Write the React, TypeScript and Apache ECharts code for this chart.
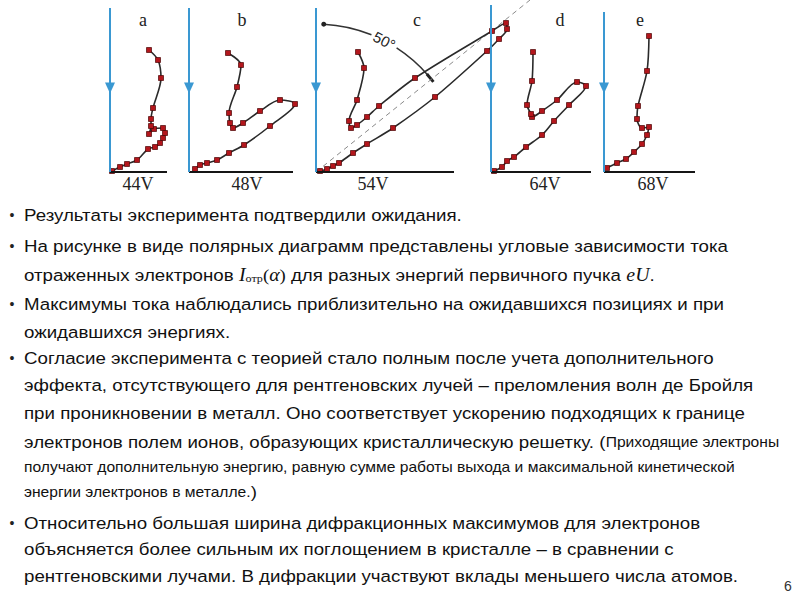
import React, { useEffect, useRef } from 'react';
import * as echarts from 'echarts';

// ---- data (arbitrary current units, horizontal / vertical components of the polar plots) ----
const panelLetters = ['a', 'b', 'c', 'd', 'e'];
const voltageLabels = ['44V', '48V', '54V', '64V', '68V'];

const curve44V: number[][] = [[2, 1], [10, 5], [17, 8], [27, 12], [38, 23], [45, 25], [50, 29], [53, 34], [55, 39], [53, 44], [44, 43], [39, 38], [41, 46], [41, 53], [43, 64], [51, 94], [48, 112], [39, 122]];
const curve48V: number[][] = [[6, 3], [11, 7], [18, 9], [28, 12], [40, 19], [55, 27], [81, 46], [106, 68], [91, 72], [71, 61], [54, 49], [44, 44], [41, 49], [40, 59], [48, 85], [52, 107], [39, 119]];
const curve54V: number[][] = [[4, 1], [11, 3], [17, 6], [23, 9], [37, 19], [51, 28], [77, 44], [119, 75], [171, 121], [183, 133], [191, 143], [190, 149], [176, 141], [99, 94], [63, 66], [51, 55], [41, 47], [35, 44], [33, 51], [41, 72], [48, 104], [42, 120]];
const curve64V: number[][] = [[3, 1], [11, 5], [16, 11], [23, 15], [35, 25], [51, 37], [63, 51], [78, 67], [95, 86], [86, 90], [66, 72], [51, 61], [41, 55], [40, 58], [36, 67], [41, 91], [42, 120]];
const curve68V: number[][] = [[3, 4], [13, 9], [22, 13], [30, 20], [38, 28], [43, 37], [45, 45], [38, 44], [33, 53], [34, 66], [43, 101], [45, 136]];
const curves = [curve44V, curve48V, curve54V, curve64V, curve68V];

// surface (baseline) length and incident-beam length per panel, same units
const surfaceLength = [57, 104, 138, 100, 91];
const beamLength = [164, 164, 164, 167, 160];
const arrowMarkerLevel = 84;

// expected reflection direction (50° from incident beam) for the 54V panel
const expectedDirection54V: number[][] = [[0, 0], [214, 172]];
const angleLabel = '50°';

const bodyLines: { text: string; bullet: boolean }[] = [
  { text: 'Результаты эксперимента подтвердили ожидания.', bullet: true },
  { text: 'На рисунке в виде полярных диаграмм представлены угловые зависимости тока', bullet: true },
  { text: 'отраженных электронов {i|I}{sub|отр}{p|(}{i|α}{p|)} для разных энергий первичного пучка {i|eU}.', bullet: false },
  { text: 'Максимумы тока наблюдались приблизительно на ожидавшихся позициях и при', bullet: true },
  { text: 'ожидавшихся энергиях.', bullet: false },
  { text: 'Согласие эксперимента с теорией стало полным после учета дополнительного', bullet: true },
  { text: 'эффекта, отсутствующего для рентгеновских лучей – преломления волн де Бройля', bullet: false },
  { text: 'при проникновении в металл. Оно соответствует ускорению подходящих к границе', bullet: false },
  { text: 'электронов полем ионов, образующих кристаллическую решетку. ({s|Приходящие электроны}', bullet: false },
  { text: '{s|получают дополнительную энергию, равную сумме работы выхода и максимальной кинетической}', bullet: false },
  { text: '{s|энергии электронов в металле.})', bullet: false },
  { text: 'Относительно большая ширина дифракционных максимумов для электронов', bullet: true },
  { text: 'объясняется более сильным их поглощением в кристалле – в сравнении с', bullet: false },
  { text: 'рентгеновскими лучами. В дифракции участвуют вклады меньшего числа атомов.', bullet: false },
];
const pageNumber = '6';

// ---- layout ----
const ORIGIN_X = [110, 189, 316, 491, 604];
const GRID_W = [60, 110, 220, 100, 92];
const BASE_Y = 172;
const LETTER_X = [143, 242, 417, 560, 640];
const VOLT_X = [138, 247, 373, 545, 653];
const LINE_Y = [215, 246, 275, 304, 332, 358, 385, 413, 442, 467, 492, 523, 549, 576];
const TEXT_X = 24;
const BLUE = '#3a98d2';
const SANS = 'Liberation Sans, Arial, sans-serif';
const SERIF = 'Liberation Serif, Times New Roman, serif';
const D = Math.PI / 180;

export default function App() {
  const ref = useRef<HTMLDivElement>(null);
  useEffect(() => {
    const chart = echarts.init(ref.current!, null, { renderer: 'svg' });
    const grids = ORIGIN_X.map((ox, i) => ({ left: ox, top: 0, width: GRID_W[i], height: BASE_Y }));
    const xAxes = GRID_W.map((w, i) => ({ type: 'value', gridIndex: i, min: 0, max: w, show: false }));
    const yAxes = GRID_W.map((_, i) => ({ type: 'value', gridIndex: i, min: 0, max: BASE_Y, show: false }));
    const series: any[] = curves.map((data, i) => ({
      type: 'line', xAxisIndex: i, yAxisIndex: i, data, smooth: 0.3, clip: false,
      symbol: 'rect', symbolSize: 5, z: 4,
      lineStyle: { color: '#2a2a2a', width: 1.6 },
      itemStyle: { color: '#b3161c', borderColor: '#4a0505', borderWidth: 0.7 },
      markLine: {
        silent: true, symbol: ['none', 'none'], label: { show: false },
        data: [
          [{ coord: [0, 0], lineStyle: { color: '#151515', width: 2, type: 'solid' } }, { coord: [surfaceLength[i], 0] }],
          [{ coord: [0, 0], lineStyle: { color: BLUE, width: 2, type: 'solid' } }, { coord: [0, beamLength[i]] }],
        ],
      },
      markPoint: {
        silent: true, symbol: 'triangle', symbolSize: [10, 11], symbolRotate: 180,
        itemStyle: { color: BLUE }, label: { show: false },
        data: [{ coord: [0, arrowMarkerLevel] }],
      },
    }));
    series.push({
      type: 'line', xAxisIndex: 2, yAxisIndex: 2, data: expectedDirection54V, clip: false,
      symbol: 'none', z: 2, lineStyle: { color: '#8a8a8a', width: 1, type: [5, 4] },
    });

    const cx = ORIGIN_X[2];
    const cy = BASE_Y;
    const R = 148;
    const pt = (deg: number, r = R) => [cx + r * Math.cos(deg * D), cy - r * Math.sin(deg * D)];
    const graphic: any[] = [];
    graphic.push({ type: 'arc', shape: { cx, cy, r: R, startAngle: -87 * D, endAngle: -68 * D, clockwise: true }, style: { stroke: '#333', lineWidth: 1.5, fill: null } });
    graphic.push({ type: 'arc', shape: { cx, cy, r: R, startAngle: -57 * D, endAngle: -41 * D, clockwise: true }, style: { stroke: '#333', lineWidth: 1.5, fill: null } });
    const dp = pt(87);
    graphic.push({ type: 'circle', shape: { cx: dp[0], cy: dp[1], r: 2.5 }, style: { fill: '#222' } });
    const t1 = pt(41.5), t2 = pt(37.5);
    graphic.push({ type: 'line', shape: { x1: t1[0], y1: t1[1], x2: t2[0], y2: t2[1] }, style: { stroke: '#222', lineWidth: 3 } });
    const lp = pt(62.5);
    graphic.push({ type: 'text', x: lp[0], y: lp[1], rotation: -27.5 * D, style: { text: angleLabel, fontFamily: SANS, fontSize: 15, fill: '#222', align: 'center', verticalAlign: 'middle' } });

    panelLetters.forEach((t, i) => {
      graphic.push({ type: 'text', x: LETTER_X[i], y: 20, style: { text: t, fontFamily: SERIF, fontSize: 18, fill: '#222', align: 'center', verticalAlign: 'middle' } });
      graphic.push({ type: 'text', x: VOLT_X[i], y: 184, style: { text: voltageLabels[i], fontFamily: SERIF, fontSize: 18, fill: '#222', align: 'center', verticalAlign: 'middle' } });
    });

    const rich = {
      i: { fontFamily: SERIF, fontStyle: 'italic', fontSize: 18, color: '#111' },
      p: { fontFamily: SERIF, fontSize: 17, color: '#111' },
      sub: { fontFamily: SERIF, fontSize: 11, color: '#111', verticalAlign: 'bottom', lineHeight: 12, padding: [8, 0, 0, 0] },
      s: { fontFamily: SANS, fontSize: 14.2, color: '#111' },
    };
    bodyLines.forEach((ln, k) => {
      if (ln.bullet) {
        graphic.push({ type: 'text', x: 12, y: LINE_Y[k], style: { text: '•', fontFamily: SANS, fontSize: 14, fill: '#222', align: 'center', verticalAlign: 'middle' } });
      }
      graphic.push({ type: 'text', x: TEXT_X, y: LINE_Y[k], scaleX: 1.1, style: { text: ln.text, rich, fontFamily: SANS, fontSize: 17, fill: '#111', align: 'left', verticalAlign: 'middle' } });
    });
    graphic.push({ type: 'text', x: 788, y: 586, style: { text: pageNumber, fontFamily: SANS, fontSize: 14, fill: '#333', align: 'center', verticalAlign: 'middle' } });

    chart.setOption({
      animation: false,
      backgroundColor: '#ffffff',
      grid: grids,
      xAxis: xAxes,
      yAxis: yAxes,
      series,
      graphic,
    });
    return () => chart.dispose();
  }, []);
  return <div ref={ref} style={{ position: 'fixed', left: 0, top: 0, width: 800, height: 600, background: '#fff' }} />;
}
